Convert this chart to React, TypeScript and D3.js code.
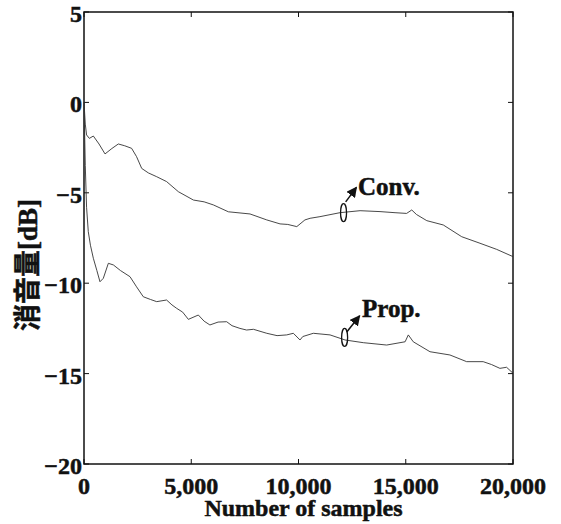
import React from 'react';
import * as d3 from 'd3';

// samples / dB
const convX = [0, 60, 120, 250, 435, 700, 980, 1300, 1600, 1900, 2220, 2450, 2690, 3000, 3390, 3850, 4400, 5100, 5600, 6030, 6730, 7740, 8520, 9140, 9500, 9920, 10300, 10540, 11000, 11930, 12870, 13800, 14500, 15040, 15280, 15500, 15980, 16750, 17610, 18460, 19240, 20000];
const convY = [0, -1.2, -1.8, -1.99, -1.86, -2.3, -2.85, -2.55, -2.3, -2.4, -2.54, -3.0, -3.65, -3.9, -4.11, -4.38, -4.94, -5.4, -5.5, -5.67, -6.05, -6.17, -6.5, -6.72, -6.75, -6.87, -6.5, -6.41, -6.32, -6.1, -5.99, -6.04, -6.1, -6.14, -5.95, -6.2, -6.54, -6.78, -7.43, -7.79, -8.13, -8.53];

const propX = [0, 60, 120, 200, 300, 435, 600, 745, 900, 1135, 1370, 1700, 2145, 2450, 2765, 3100, 3390, 3850, 4100, 4320, 4600, 4865, 5330, 5600, 5870, 6250, 6650, 6900, 7270, 7580, 7900, 8520, 9000, 9450, 9760, 10070, 10200, 10690, 11470, 12170, 13020, 14110, 14970, 15120, 15350, 16130, 17060, 17840, 18610, 19000, 19390, 19700, 20000];
const propY = [0, -3.5, -5.8, -7.15, -7.9, -8.62, -9.3, -9.92, -9.73, -8.9, -8.99, -9.3, -9.64, -10.2, -10.75, -10.9, -11.02, -10.93, -11.2, -11.39, -11.6, -12.0, -11.76, -12.1, -12.31, -12.15, -12.13, -12.35, -12.5, -12.59, -12.55, -12.77, -12.9, -12.86, -12.77, -13.14, -12.95, -12.77, -12.86, -13.14, -13.29, -13.42, -13.24, -12.86, -13.24, -13.79, -13.97, -14.34, -14.34, -14.5, -14.71, -14.65, -14.98];

const xTicks = [0, 5000, 10000, 15000, 20000];
const xTickLabels = ['0', '5,000', '10,000', '15,000', '20,000'];
const yTicks = [5, 0, -5, -10, -15, -20];
const yTickLabels = ['5', '0', '−5', '−10', '−15', '−20'];

const serif = '"Liberation Serif", "Times New Roman", serif';
const heavy = { stroke: '#111', strokeWidth: 0.5 };

export default function App() {
  const width = 561;
  const height = 524;
  const x = d3.scaleLinear().domain([0, 20000]).range([84, 513]);
  const y = d3.scaleLinear().domain([-20, 5]).range([464, 12]);

  const convPath = d3.line<number>().x(d => x(convX[d])).y(d => y(convY[d]))(convX.map((_, i) => i)) || '';
  const propPath = d3.line<number>().x(d => x(propX[d])).y(d => y(propY[d]))(propX.map((_, i) => i)) || '';

  const [x0, x1] = x.range();
  const [y0, y1] = y.range();

  return (
    <svg width={width} height={height} style={{ position: 'absolute', left: 0, top: 0, background: '#fff' }}>
      <defs>
        <marker id="ah" viewBox="0 0 10 10" refX="9" refY="5" markerWidth="7" markerHeight="7" orient="auto">
          <path d="M0,0 L10,5 L0,10 z" fill="#111" />
        </marker>
      </defs>
      <rect x={x0} y={y1} width={x1 - x0} height={y0 - y1} fill="none" stroke="#111" strokeWidth={1.5} />

      {xTicks.map((t, i) => (
        <g key={'x' + t}>
          <line x1={x(t)} x2={x(t)} y1={y0} y2={y0 - 5} stroke="#111" />
          <line x1={x(t)} x2={x(t)} y1={y1} y2={y1 + 5} stroke="#111" />
          <text x={x(t)} y={494} textAnchor="middle" fontFamily={serif} fontWeight="bold" fontSize={24} fill="#111" {...heavy}>
            {xTickLabels[i]}
          </text>
        </g>
      ))}
      {yTicks.map((t, i) => (
        <g key={'y' + t}>
          <line x1={x0} x2={x0 + 5} y1={y(t)} y2={y(t)} stroke="#111" />
          <line x1={x1} x2={x1 - 5} y1={y(t)} y2={y(t)} stroke="#111" />
          <text x={82} y={y(t) + 10} textAnchor="end" fontFamily={serif} fontWeight="bold" fontSize={24} fill="#111" {...heavy}>
            {yTickLabels[i]}
          </text>
        </g>
      ))}

      <path d={convPath} fill="none" stroke="#333" strokeWidth={0.9} />
      <path d={propPath} fill="none" stroke="#333" strokeWidth={0.9} />

      {/* Conv. marker */}
      <ellipse cx={x(12100)} cy={y(-6.1)} rx={3} ry={9} fill="none" stroke="#111" strokeWidth={1.3} />
      <line x1={x(12200)} y1={y(-5.5)} x2={x(12700)} y2={y(-4.7)} stroke="#111" strokeWidth={1.5} markerEnd="url(#ah)" />
      <text x={358} y={195} fontFamily={serif} fontWeight="bold" fontSize={25} fill="#111" {...heavy}>Conv.</text>

      {/* Prop. marker */}
      <ellipse cx={x(12150)} cy={y(-13.0)} rx={3} ry={9} fill="none" stroke="#111" strokeWidth={1.3} />
      <line x1={x(12250)} y1={y(-12.7)} x2={x(12850)} y2={y(-11.8)} stroke="#111" strokeWidth={1.5} markerEnd="url(#ah)" />
      <text x={362} y={317} fontFamily={serif} fontWeight="bold" fontSize={25} fill="#111" {...heavy}>Prop.</text>

      <text x={(x0 + x1) / 2 + 5} y={516} textAnchor="middle" fontFamily={serif} fontWeight="bold" fontSize={24} fill="#111" {...heavy}>
        Number of samples
      </text>
      <text transform="translate(37,265) rotate(-90)" textAnchor="middle" fontFamily={'"Liberation Serif", "Noto Sans CJK JP", serif'} fontWeight="bold" fontSize={27} fill="#111" {...heavy}>
        消音量[dB]
      </text>
    </svg>
  );
}
